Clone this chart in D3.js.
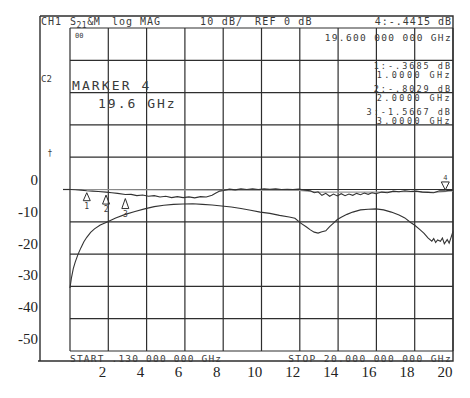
<!DOCTYPE html>
<html>
<head>
<meta charset="utf-8">
<script src="https://cdn.jsdelivr.net/npm/d3@7"></script>
<style>
  body { margin: 0; background: #fff; }
  .mono { font-family: "DejaVu Sans Mono", monospace; fill: #3a3a3a; }
  .ax text { font-family: "Liberation Serif", serif; font-size: 15px; fill: #222; }
</style>
</head>
<body>
<div id="chart"></div>
<script>
// trace data (GHz, dB)
var upperTrace = [
  [0.13, 0.0], [0.4, -0.1], [0.7, -0.2], [1.0, -0.37], [1.3, -0.5], [1.6, -0.6],
  [2.0, -0.8], [2.3, -1.0], [2.6, -1.2], [3.0, -1.57], [3.3, -1.5], [3.6, -1.9],
  [3.9, -1.7], [4.2, -2.1], [4.5, -1.9], [4.8, -2.3], [5.1, -2.1], [5.4, -2.5],
  [5.7, -2.2], [6.0, -2.5], [6.3, -2.3], [6.6, -2.6], [6.9, -2.2], [7.2, -2.3],
  [7.5, -1.8], [7.7, -1.1], [7.9, -0.5], [8.1, -0.3], [8.4, 0.1], [8.7, -0.1],
  [9.0, 0.2], [9.3, 0.0], [9.6, 0.2], [9.9, 0.0], [10.2, 0.2], [10.5, 0.1],
  [10.8, 0.2], [11.1, 0.0], [11.4, 0.1], [11.7, 0.0], [12.0, 0.1], [12.3, -0.2],
  [12.6, -0.4], [12.8, -1.0], [13.0, -0.7], [13.2, -1.8], [13.4, -1.2], [13.6, -2.1],
  [13.8, -1.4], [14.0, -2.0], [14.2, -1.3], [14.4, -1.9], [14.6, -1.4], [14.8, -1.8],
  [15.0, -1.2], [15.2, -1.6], [15.4, -1.1], [15.6, -1.5], [15.8, -1.0], [16.0, -1.3],
  [16.3, -0.8], [16.6, -1.0], [16.9, -0.5], [17.2, -0.7], [17.5, -0.4], [17.8, -0.6],
  [18.1, -0.5], [18.4, -0.8], [18.7, -0.9], [19.0, -1.0], [19.3, -0.4], [19.6, -0.44],
  [19.8, -0.2], [20.0, -0.3]
];

var memoryTrace = [
  [0.13, 0.0], [8.0, -0.2], [12.0, -0.3], [13.0, -0.8], [16.0, -0.8],
  [18.0, -0.6], [19.0, -0.9], [20.0, -0.4]
];

var lowerTrace = [
  [0.13, -30.5], [0.2, -27.5], [0.3, -24.5], [0.4, -22.5], [0.55, -20], [0.7, -18],
  [0.85, -16.2], [1.0, -14.8], [1.2, -13.3], [1.4, -12.2], [1.7, -11.0], [2.0, -10.2],
  [2.5, -8.8], [3.0, -7.7], [3.5, -6.8], [4.0, -6.0], [4.5, -5.3], [5.0, -4.9],
  [5.5, -4.6], [6.0, -4.5], [6.5, -4.4], [7.0, -4.6], [7.5, -4.8], [8.0, -5.1],
  [8.5, -5.4], [9.0, -5.9], [9.5, -6.4], [10.0, -7.0], [10.5, -7.4], [11.0, -8.0],
  [11.5, -8.5], [11.8, -8.9], [12.1, -10.4], [12.4, -11.6], [12.6, -12.5], [12.8, -13.2],
  [13.0, -13.5], [13.2, -13.1], [13.4, -12.8], [13.6, -11.5], [13.8, -10.4], [14.0, -9.3],
  [14.2, -8.6], [14.5, -7.7], [14.8, -7.0], [15.2, -6.3], [15.6, -6.1], [16.0, -6.0],
  [16.4, -6.3], [16.8, -7.0], [17.2, -7.9], [17.5, -8.8], [17.8, -10.2], [18.0, -11.0],
  [18.3, -12.5], [18.5, -13.6], [18.7, -15.0], [18.9, -16.0], [19.0, -15.2], [19.1, -16.4],
  [19.2, -15.6], [19.35, -16.0], [19.45, -15.0], [19.55, -16.8], [19.7, -15.5], [19.8, -16.6],
  [19.9, -14.8], [20.0, -13.0]
];

var markerFreq = [1, 2, 3, 19.6];
var markerVal = [-0.3685, -0.8029, -1.5667, -0.4415];
var markerLabel = ["1", "2", "3", "4"];

var readoutDb = ["1:-.3685  dB", "2:-.8029  dB", "3:-1.5667 dB"];
var readoutHz = ["1.0000 GHz", "2.0000 GHz", "3.0000 GHz"];

var xTicks = [2, 4, 6, 8, 10, 12, 14, 16, 18, 20];
var yTicks = [0, -10, -20, -30, -40, -50];

var svgWidth = 470, svgHeight = 398;

var svg = d3.select("#chart")
  .append("svg")
  .attr("width", svgWidth)
  .attr("height", svgHeight);

// instrument grid scales: 10 divisions, 10 dB/div, ref 0 dB at centre
var xGrid = d3.scaleLinear().domain([0.13, 20]).range([70, 453]);
var yGrid = d3.scaleLinear().domain([-50, 50]).range([351, 28]);

// the printed axis labels under / beside the photo
var xOuter = d3.scaleLinear().domain([2, 20]).range([102, 444.5]);
var yOuter = d3.scaleLinear().domain([-50, 0]).range([338.5, 180]);

var ink = "#2e2e2e";

// grid
var vLines = d3.range(11).map(i => 0.13 + i * (20 - 0.13) / 10);
svg.append("g").selectAll("line")
  .data(vLines)
  .enter().append("line")
  .attr("x1", d => xGrid(d)).attr("x2", d => xGrid(d))
  .attr("y1", yGrid(50)).attr("y2", yGrid(-50))
  .attr("stroke", ink).attr("stroke-width", 1.2);

svg.append("g").selectAll("line")
  .data(d3.range(-50, 51, 10))
  .enter().append("line")
  .attr("x1", xGrid(0.13)).attr("x2", xGrid(20))
  .attr("y1", d => yGrid(d)).attr("y2", d => yGrid(d))
  .attr("stroke", ink).attr("stroke-width", 1.2);

// outer frame
svg.append("path")
  .attr("d", "M40,16H453V361H38M40,16V361")
  .attr("fill", "none").attr("stroke", ink).attr("stroke-width", 1.4);

// reference position stub
svg.append("line")
  .attr("x1", 63).attr("x2", xGrid(0.13))
  .attr("y1", yGrid(0)).attr("y2", yGrid(0))
  .attr("stroke", ink).attr("stroke-width", 1.2);

var line = d3.line().x(d => xGrid(d[0])).y(d => yGrid(d[1]));

svg.append("path").datum(memoryTrace)
  .attr("d", line).attr("fill", "none")
  .attr("stroke", "#9a9a9a").attr("stroke-width", 1.2);

svg.append("path").datum(upperTrace)
  .attr("d", line).attr("fill", "none")
  .attr("stroke", "#333").attr("stroke-width", 1.1);

svg.append("path").datum(lowerTrace)
  .attr("d", line).attr("fill", "none")
  .attr("stroke", "#333").attr("stroke-width", 1.1);

// markers 1-3 below the trace, active marker 4 above it
markerFreq.forEach(function(f, i) {
  var x = xGrid(f), y = yGrid(markerVal[i]);
  var g = svg.append("g");
  if (i < 3) {
    var top = y + 2 + i, h = 8 + i;
    g.append("path")
      .attr("d", `M${x},${top}L${x - 3.5},${top + h}H${x + 3.5}Z`)
      .attr("fill", "none").attr("stroke", ink).attr("stroke-width", 1);
    g.append("text").attr("class", "mono")
      .attr("x", x).attr("y", top + h + 8)
      .attr("text-anchor", "middle").attr("font-size", 8)
      .text(markerLabel[i]);
  } else {
    g.append("path")
      .attr("d", `M${x},${y - 1}L${x - 4},${y - 9}H${x + 4}Z`)
      .attr("fill", "none").attr("stroke", ink).attr("stroke-width", 1);
    g.append("text").attr("class", "mono")
      .attr("x", x).attr("y", y - 11)
      .attr("text-anchor", "middle").attr("font-size", 7)
      .text(markerLabel[i]);
  }
});

// screen annotations
function mono(x, y, size, txt, anchor, spacing) {
  return svg.append("text").attr("class", "mono")
    .attr("x", x).attr("y", y)
    .attr("font-size", size)
    .attr("text-anchor", anchor || "start")
    .attr("letter-spacing", spacing || 0)
    .text(txt);
}

mono(41, 25, 10, "CH1", "start", 1);
var s = mono(70, 25, 10, "S", "start", 0.5);
s.append("tspan").attr("font-size", 8).attr("dy", 3).text("21");
s.append("tspan").attr("dy", -3).text("&M");
mono(112, 25, 10, "log", "start", 1);
mono(140, 25, 10, "MAG", "start", 1);
mono(200, 25, 10, "10 dB/", "start", 1.2);
mono(255, 25, 10, "REF 0 dB", "start", 1.2);
mono(452, 25, 10, "4:-.4415  dB", "end", 1);
mono(452, 41, 9.5, "19.600 000 000 GHz", "end", 1.35);
mono(75, 38, 7, "00");
mono(41, 82, 9, "C2");
mono(72, 90, 13, "MARKER 4", "start", 2.1);
mono(98, 108, 13, "19.6 GHz", "start", 2);
mono(50, 156, 8, "\u2020", "middle");

readoutDb.forEach(function(t, i) {
  mono(452, 69 + i * 23, 8.5, t, "end", 2);
  mono(452, 78 + i * 23, 8.5, readoutHz[i], "end", 2.4);
});

mono(70, 362, 9.5, "START   .130 000 000 GHz", "start", 1.2);
mono(452, 362, 9.5, "STOP 20.000 000 000 GHz", "end", 1.4);

// printed axes
var xAxis = d3.axisBottom(xOuter).tickValues(xTicks).tickSize(0).tickPadding(0)
  .tickFormat(d => String(d));
svg.append("g").attr("class", "ax")
  .attr("transform", "translate(0, 366)")
  .call(xAxis)
  .call(g => g.select(".domain").remove());

var yAxis = d3.axisLeft(yOuter).tickValues(yTicks).tickSize(0).tickPadding(0)
  .tickFormat(d => String(d));
svg.append("g").attr("class", "ax")
  .attr("transform", "translate(38, 0)")
  .call(yAxis)
  .call(g => g.select(".domain").remove());
</script>
</body>
</html>
